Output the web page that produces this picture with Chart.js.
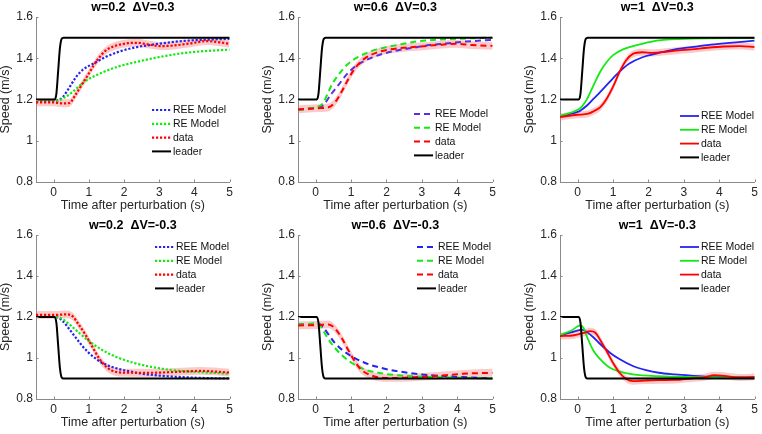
<!DOCTYPE html>
<html><head><meta charset="utf-8">
<script src="https://cdn.jsdelivr.net/npm/chart.js@4.4.0/dist/chart.umd.min.js"></script>
<style>
html,body{margin:0;padding:0;background:#fff;width:762px;height:434px;overflow:hidden;position:relative}
.p{position:absolute}
</style></head><body>
<div class="p" id="w0"><canvas id="c0"></canvas></div>
<div class="p" id="w1"><canvas id="c1"></canvas></div>
<div class="p" id="w2"><canvas id="c2"></canvas></div>
<div class="p" id="w3"><canvas id="c3"></canvas></div>
<div class="p" id="w4"><canvas id="c4"></canvas></div>
<div class="p" id="w5"><canvas id="c5"></canvas></div>
<script>
// ---------- tick labels / names ----------
const xTickLabels = ['0','1','2','3','4','5'];
const yTickLabels = ['0.8','1','1.2','1.4','1.6'];
const seriesNames = ['REE Model','RE Model','data','leader'];
const panelTitles = ['w=0.2  \u0394V=0.3','w=0.6  \u0394V=0.3','w=1  \u0394V=0.3',
                     'w=0.2  \u0394V=-0.3','w=0.6  \u0394V=-0.3','w=1  \u0394V=-0.3'];

// ---------- leader ----------
const leaderT    = [-0.5, 0.03, 0.08, 0.13, 0.18, 0.23, 0.28, 5];
const leaderUp   = [1.2, 1.2, 1.23, 1.34, 1.45, 1.495, 1.5, 1.5];
const leaderDown = [1.2, 1.2, 1.17, 1.06, 0.95, 0.905, 0.9, 0.9];

// ---------- panel 1: w=0.2, dV=+0.3 ----------
const p1ReeT = [-0.5, 0, 0.15, 0.26, 0.45, 0.63, 0.82, 1.14, 1.5, 1.84, 2.3, 2.77, 3.2, 3.69, 4.2, 5];
const p1Ree  = [1.195, 1.195, 1.198, 1.211, 1.259, 1.307, 1.343, 1.375, 1.408, 1.431, 1.452, 1.465, 1.475, 1.484, 1.489, 1.494];
const p1ReT  = [-0.5, 0, 0.15, 0.26, 0.45, 0.91, 1.37, 1.84, 2.3, 2.77, 3.23, 3.69, 4.16, 5];
const p1Re   = [1.195, 1.195, 1.197, 1.205, 1.225, 1.29, 1.33, 1.36, 1.38, 1.398, 1.413, 1.425, 1.433, 1.442];
const p1DataT = [-0.5, 0, 0.26, 0.45, 0.63, 0.82, 1.0, 1.14, 1.28, 1.47, 1.75, 2.12, 2.4, 2.68, 3.05, 3.42, 3.88, 4.35, 4.72, 5];
const p1Data  = [1.186, 1.186, 1.181, 1.183, 1.225, 1.277, 1.326, 1.366, 1.4, 1.436, 1.46, 1.473, 1.475, 1.467, 1.459, 1.462, 1.472, 1.483, 1.477, 1.47];

// ---------- panel 2: w=0.6, dV=+0.3 ----------
const p2ReeT = [-0.5, 0, 0.2, 0.45, 0.64, 0.91, 1.19, 1.56, 1.93, 2.3, 2.76, 3.22, 3.68, 4.15, 5];
const p2Ree  = [1.15, 1.16, 1.17, 1.229, 1.27, 1.328, 1.369, 1.401, 1.423, 1.438, 1.451, 1.464, 1.472, 1.48, 1.489];
const p2ReT  = [-0.5, 0, 0.2, 0.36, 0.45, 0.64, 0.91, 1.19, 1.56, 1.93, 2.3, 2.76, 3.22, 3.68, 5];
const p2Re   = [1.15, 1.163, 1.18, 1.237, 1.27, 1.319, 1.372, 1.405, 1.434, 1.451, 1.464, 1.479, 1.487, 1.492, 1.5];
const p2DataT = [-0.5, 0.08, 0.36, 0.54, 0.73, 0.91, 1.1, 1.38, 1.74, 2.11, 2.48, 2.95, 3.41, 3.96, 4.42, 5];
const p2Data  = [1.152, 1.158, 1.162, 1.185, 1.237, 1.295, 1.349, 1.398, 1.428, 1.443, 1.451, 1.457, 1.464, 1.47, 1.464, 1.46];

// ---------- panel 3: w=1, dV=+0.3 ----------
const p3ReeT = [-0.5, 0, 0.08, 0.27, 0.45, 0.64, 0.91, 1.19, 1.46, 1.83, 2.29, 2.75, 3.21, 3.67, 4.13, 5];
const p3Ree  = [1.12, 1.14, 1.147, 1.172, 1.204, 1.237, 1.287, 1.336, 1.374, 1.405, 1.426, 1.443, 1.454, 1.464, 1.472, 1.485];
const p3ReT  = [-0.5, 0, 0.13, 0.27, 0.45, 0.64, 0.82, 1.0, 1.28, 1.56, 1.93, 2.29, 3.21, 5];
const p3Re   = [1.12, 1.15, 1.168, 1.204, 1.27, 1.336, 1.382, 1.415, 1.443, 1.459, 1.475, 1.487, 1.495, 1.498];
const p3DataT = [-0.5, 0, 0.3, 0.45, 0.64, 0.82, 1.0, 1.19, 1.37, 1.56, 1.83, 2.11, 2.48, 2.84, 3.21, 3.67, 4.13, 4.59, 5];
const p3Data  = [1.115, 1.126, 1.131, 1.143, 1.163, 1.204, 1.262, 1.336, 1.39, 1.421, 1.429, 1.426, 1.431, 1.438, 1.443, 1.451, 1.457, 1.459, 1.454];

// ---------- panel 4: w=0.2, dV=-0.3 ----------
const p4ReeT = [-0.5, 0.07, 0.26, 0.45, 0.63, 0.82, 1.0, 1.19, 1.37, 1.74, 2.12, 2.49, 3.23, 4.16, 5];
const p4Ree  = [1.2, 1.2, 1.18, 1.14, 1.099, 1.058, 1.025, 0.998, 0.977, 0.952, 0.936, 0.924, 0.911, 0.903, 0.9];
const p4ReT  = [-0.5, 0.07, 0.26, 0.45, 0.72, 1.0, 1.37, 1.84, 2.3, 2.77, 3.23, 3.69, 4.16, 5];
const p4Re   = [1.2, 1.2, 1.189, 1.164, 1.123, 1.083, 1.04, 1.001, 0.975, 0.957, 0.944, 0.936, 0.931, 0.923];
const p4DataT = [-0.5, 0.07, 0.35, 0.54, 0.72, 0.91, 1.1, 1.28, 1.47, 1.65, 1.93, 2.77, 3.69, 4.16, 5];
const p4Data  = [1.21, 1.21, 1.213, 1.203, 1.161, 1.112, 1.055, 1.001, 0.961, 0.939, 0.929, 0.928, 0.934, 0.937, 0.929];

// ---------- panel 5: w=0.6, dV=-0.3 ----------
const p5ReeT = [-0.5, 0.08, 0.22, 0.36, 0.54, 0.73, 1.01, 1.38, 1.84, 2.3, 2.76, 3.22, 3.68, 4.15, 5];
const p5Ree  = [1.164, 1.167, 1.148, 1.115, 1.074, 1.042, 1.009, 0.977, 0.952, 0.936, 0.924, 0.916, 0.911, 0.907, 0.9];
const p5ReT  = [-0.5, 0.08, 0.22, 0.36, 0.54, 0.73, 1.01, 1.38, 1.84, 2.3, 3.22, 5];
const p5Re   = [1.164, 1.167, 1.131, 1.091, 1.05, 1.015, 0.977, 0.944, 0.926, 0.916, 0.907, 0.9];
const p5DataT = [-0.5, 0.08, 0.36, 0.54, 0.73, 0.91, 1.1, 1.28, 1.56, 1.93, 2.3, 2.76, 3.22, 3.68, 4.15, 5];
const p5Data  = [1.159, 1.161, 1.164, 1.145, 1.099, 1.042, 0.985, 0.944, 0.916, 0.903, 0.903, 0.906, 0.91, 0.916, 0.923, 0.928];

// ---------- panel 6: w=1, dV=-0.3 ----------
const p6ReeT = [-0.5, -0.19, 0.13, 0.27, 0.45, 0.64, 0.91, 1.19, 1.56, 1.93, 2.29, 2.75, 3.21, 3.67, 4.13, 5];
const p6Ree  = [1.111, 1.125, 1.138, 1.125, 1.1, 1.067, 1.026, 0.994, 0.961, 0.941, 0.928, 0.92, 0.914, 0.909, 0.907, 0.904];
const p6ReT  = [-0.5, -0.19, 0.08, 0.17, 0.27, 0.45, 0.64, 0.91, 1.19, 1.56, 2.29, 3.21, 5];
const p6Re   = [1.113, 1.133, 1.159, 1.145, 1.1, 1.034, 0.993, 0.952, 0.933, 0.92, 0.911, 0.907, 0.904];
const p6DataT = [-0.5, -0.1, 0.18, 0.36, 0.5, 0.64, 0.82, 1.0, 1.19, 1.37, 1.56, 1.93, 2.29, 2.75, 3.21, 3.58, 3.86, 4.13, 4.59, 5];
const p6Data  = [1.107, 1.111, 1.123, 1.131, 1.123, 1.087, 1.033, 0.976, 0.927, 0.898, 0.887, 0.89, 0.892, 0.893, 0.9, 0.906, 0.916, 0.913, 0.905, 0.908];

// shaded band half-width around the data curve, per panel
const bandHalfWidth = [0.019, 0.019, 0.017, 0.019, 0.019, 0.017];

// ---------- styling / layout ----------
const FONT = "'Liberation Sans', Arial, Helvetica, sans-serif";
const COL = {ree:'#2424f0', re:'#12ea12', data:'#ff0000', leader:'#000000',
             band:'rgba(240,110,110,0.36)', axis:'#8a8a8a', text:'#262626'};
const STYLES = {
  dotted: {dash:[2.2,1.8], width:2.2},
  dashed: {dash:[6,4], width:2},
  solid:  {dash:[], width:1.8}
};
const panels = [
  {rect:[36,17,233,182],  style:'dotted', ree:[p1ReeT,p1Ree], re:[p1ReT,p1Re], data:[p1DataT,p1Data], leader:leaderUp,   legend:[116,93]},
  {rect:[298,17,496,182], style:'dashed', ree:[p2ReeT,p2Ree], re:[p2ReT,p2Re], data:[p2DataT,p2Data], leader:leaderUp,   legend:[116,97], reeCol:'#5a2ee6'},
  {rect:[560,17,758,182], style:'solid',  ree:[p3ReeT,p3Ree], re:[p3ReT,p3Re], data:[p3DataT,p3Data], leader:leaderUp,   legend:[120,99]},
  {rect:[36,235,233,399], style:'dotted', ree:[p4ReeT,p4Ree], re:[p4ReT,p4Re], data:[p4DataT,p4Data], leader:leaderDown, legend:[119,12]},
  {rect:[298,235,496,399],style:'dashed', ree:[p5ReeT,p5Ree], re:[p5ReT,p5Re], data:[p5DataT,p5Data], leader:leaderDown, legend:[119,12]},
  {rect:[560,235,758,399],style:'solid',  ree:[p6ReeT,p6Ree], re:[p6ReT,p6Re], data:[p6DataT,p6Data], leader:leaderDown, legend:[120,12]}
];
const Y_AXIS_W = 40, X_AXIS_H = 35, TOP_PAD = 17, RIGHT_PAD = 3;

const pts = (t, v) => t.map((x, i) => ({x, y: v[i]}));

// plugin: title, inner tick marks, inner legend
const decor = {
  id: 'decor',
  afterDraw(chart, args, opts) {
    const {ctx, chartArea: a, scales} = chart;
    ctx.save();
    ctx.strokeStyle = COL.axis; ctx.lineWidth = 1;
    scales.x.ticks.forEach(t => {
      const px = Math.round(scales.x.getPixelForValue(t.value)) + 0.5;
      ctx.beginPath(); ctx.moveTo(px, a.bottom); ctx.lineTo(px, a.bottom - 2.5); ctx.stroke();
    });
    scales.y.ticks.forEach(t => {
      const py = Math.round(scales.y.getPixelForValue(t.value)) + 0.5;
      ctx.beginPath(); ctx.moveTo(a.left, py); ctx.lineTo(a.left + 2.5, py); ctx.stroke();
    });
    ctx.fillStyle = '#000';
    ctx.font = 'bold 12.5px ' + FONT;
    ctx.textAlign = 'center'; ctx.textBaseline = 'middle';
    ctx.fillText(opts.title, (a.left + a.right) / 2, a.top - 9.5);
    const lx = a.left + opts.legend[0], ly = a.top + opts.legend[1];
    const rowH = 13.8, lineLen = 19;
    ctx.font = '10.5px ' + FONT;
    ctx.textAlign = 'left';
    chart.data.datasets.forEach(ds => {
      if (ds.legendIndex === undefined) return;
      const y = ly + ds.legendIndex * rowH;
      ctx.strokeStyle = ds.borderColor; ctx.lineWidth = ds.borderWidth;
      ctx.setLineDash(ds.borderDash || []);
      ctx.lineCap = 'butt';
      ctx.beginPath(); ctx.moveTo(lx, y); ctx.lineTo(lx + lineLen, y); ctx.stroke();
      ctx.setLineDash([]);
      ctx.fillStyle = '#111';
      ctx.fillText(ds.label, lx + lineLen + 2, y + 0.5);
    });
    ctx.restore();
  }
};

panels.forEach((p, i) => {
  const [L, T, R, B] = p.rect;
  const w = document.getElementById('w' + i);
  w.style.left = (L - Y_AXIS_W) + 'px';
  w.style.top = (T - TOP_PAD) + 'px';
  w.style.width = (R - L + Y_AXIS_W + RIGHT_PAD) + 'px';
  w.style.height = (B - T + TOP_PAD + X_AXIS_H) + 'px';
  const st = STYLES[p.style];
  const line = (label, idx, color, pair) => ({
    label, legendIndex: idx, data: pts(pair[0], pair[1]),
    borderColor: color, borderWidth: st.width, borderDash: st.dash,
    pointRadius: 0, fill: false, cubicInterpolationMode: 'monotone', borderCapStyle: 'butt'
  });
  const hw = bandHalfWidth[i];
  const datasets = [
    {label: seriesNames[3], legendIndex: 3, data: pts(leaderT, p.leader), borderColor: COL.leader,
     borderWidth: 2, borderDash: [], pointRadius: 0, fill: false, cubicInterpolationMode: 'monotone'},
    line(seriesNames[2], 2, COL.data, p.data),
    line(seriesNames[1], 1, COL.re, p.re),
    line(seriesNames[0], 0, p.reeCol || COL.ree, p.ree),
    {label: 'band+', data: pts(p.data[0], p.data[1].map(v => v + hw)), borderWidth: 0, pointRadius: 0,
     fill: false, cubicInterpolationMode: 'monotone', borderColor: 'rgba(0,0,0,0)'},
    {label: 'band-', data: pts(p.data[0], p.data[1].map(v => v - hw)), borderWidth: 0, pointRadius: 0,
     fill: '-1', backgroundColor: COL.band, cubicInterpolationMode: 'monotone', borderColor: 'rgba(0,0,0,0)'}
  ];
  new Chart(document.getElementById('c' + i), {
    type: 'line',
    data: {datasets},
    options: {
      responsive: true, maintainAspectRatio: false, animation: false,
      layout: {padding: {top: TOP_PAD, right: RIGHT_PAD, left: 0, bottom: 0}},
      plugins: {legend: {display: false}, tooltip: {enabled: false},
                decor: {title: panelTitles[i], legend: p.legend}},
      scales: {
        x: {type: 'linear', min: -0.5, max: 5,
            afterFit: s => { s.height = X_AXIS_H; },
            grid: {display: false, drawTicks: false},
            border: {display: true, color: COL.axis, width: 1},
            ticks: {stepSize: 1, includeBounds: false, padding: 3, color: COL.text, maxRotation: 0,
                    font: {family: FONT, size: 12},
                    callback: (v, k) => xTickLabels[k]},
            title: {display: true, text: 'Time after perturbation (s)', color: COL.text,
                    font: {family: FONT, size: 12.5}, padding: {top: 0, bottom: 4}}},
        y: {min: 0.8, max: 1.6,
            afterFit: s => { s.width = Y_AXIS_W; },
            grid: {display: false, drawTicks: false},
            border: {display: true, color: COL.axis, width: 1},
            ticks: {stepSize: 0.2, padding: 3, color: COL.text,
                    font: {family: FONT, size: 12},
                    callback: (v, k) => yTickLabels[k]},
            title: {display: true, text: 'Speed (m/s)', color: COL.text,
                    font: {family: FONT, size: 12.5}, padding: {top: 2.5, bottom: 0}}}
      }
    },
    plugins: [decor]
  });
});
</script>
</body></html>
